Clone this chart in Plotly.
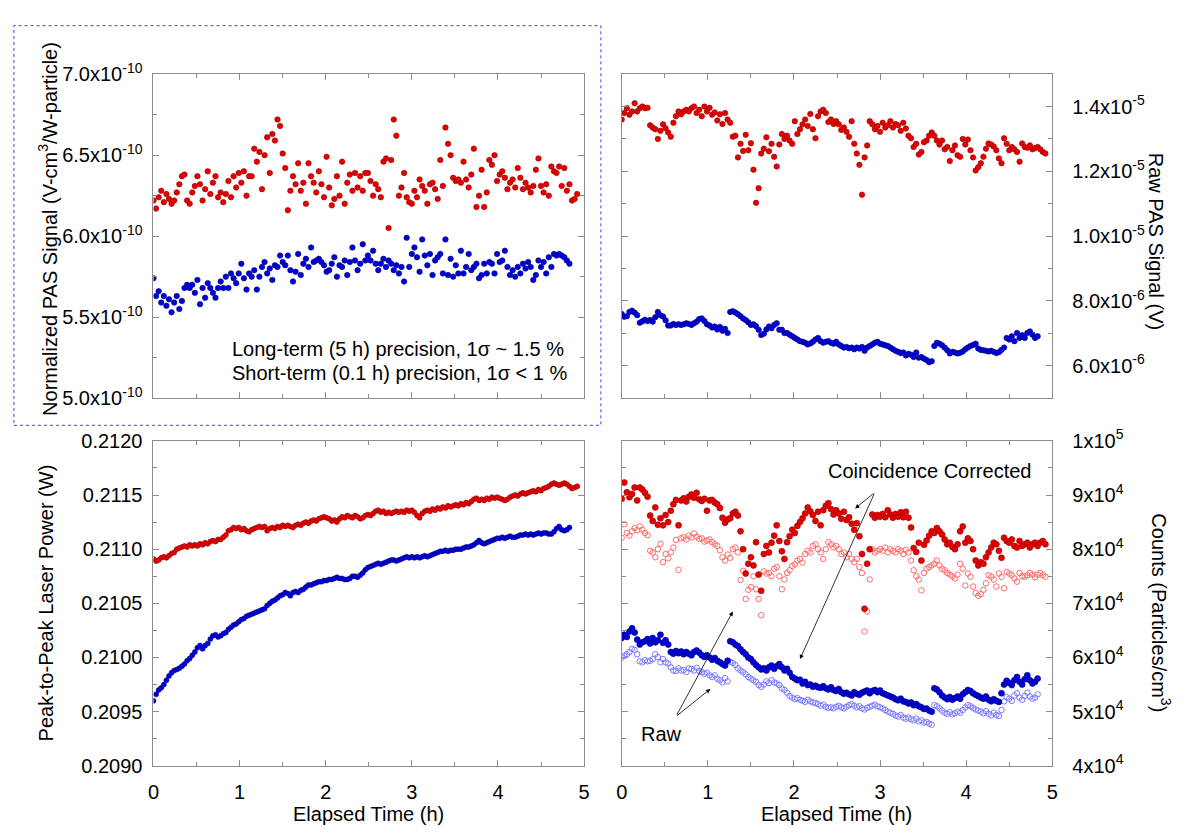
import plotly.graph_objects as go

W, H = 1185, 836
sample_step_h = 0.03  # elapsed-time spacing between successive readings (h)

# ---------------- data ----------------
# Normalized PAS signal, units of 1e-12 V-cm3/(W-particle)
norm_red = [622,617,624,628,621,626,623,620,622,627,632,
            637,638,622,620,627,631,637,632,622,629,
            640,626,633,637,624,627,621,626,634,624,
            637,630,639,633,640,625,637,637,654,646,
            652,629,650,661,639,663,659,672,668,651,
            642,616,628,637,632,645,628,633,620,645,
            637,633,627,640,632,624,649,630,619,623,
            637,625,646,620,633,638,628,639,630,637,
            628,639,639,634,625,632,629,624,646,648,
            605,647,672,662,625,630,639,624,621,620,
            628,624,635,631,628,620,632,633,629,623,
            647,631,667,657,650,636,634,635,633,646,
            635,630,638,654,618,625,641,618,627,647,
            644,650,634,638,640,636,629,633,635,630,
            642,636,629,633,630,627,631,641,648,631,
            627,632,625,643,640,639,643,631,642,628,
            632,622,623,626]
norm_blue = [574,563,566,559,563,557,561,553,559,563,555,
             560,568,570,568,570,565,573,558,568,562,
             571,568,565,562,568,572,568,575,568,577,
             574,571,577,583,574,567,577,575,579,567,
             575,581,584,577,580,573,582,581,588,584,
             582,588,579,572,578,589,576,583,586,581,
             593,584,585,586,584,582,578,579,583,587,
             575,582,581,585,576,584,593,585,579,583,
             595,585,588,585,591,583,579,583,586,581,
             585,583,579,582,577,581,572,599,581,589,
             593,587,578,598,588,582,589,576,585,587,
             589,577,598,576,586,575,582,577,591,577,
             581,589,579,581,583,574,576,583,577,584,
             583,577,589,584,585,591,581,576,579,575,
             581,577,583,580,584,581,573,576,585,581,
             584,577,587,581,589,588,589,588,587,585,583]

# Raw PAS signal, units of 1e-7 V
raw_red = [136,138,139.5,137.5,138.5,141,138.5,139.5,140,139.5,139.6,
           134.2,133.5,133,130,132.5,134.5,133.3,132,130.7,135,
           137,138.5,137.6,138.5,139,138.5,139.5,140,138,139,
           137,140,138.5,139.6,137.5,138.2,135.7,137.6,134.6,138,
           136,135,130.7,131,124.3,128.5,126.3,131.3,126.5,128.7,
           120.5,110.3,114.8,125.5,127,130.5,126.2,128.5,124.5,121.5,
           128.3,131.5,130,131,129.5,128.5,135.5,131.5,133,134.5,
           136,134,137.7,133,130.2,137,138.5,139,138,135.2,
           136,134.6,135.5,134.5,132.8,133.5,132.2,130.7,135.5,128.5,
           125.5,122,112.8,124.3,128,135.5,134.5,133,134,132.2,
           135,133.5,134.2,135.5,133.5,134.6,134.2,132.5,135,133.2,
           131,130.2,127.5,128.5,125.2,126,129,129.5,131,132,
           131,129.5,128.3,129.5,126.8,127.5,123.2,126.5,128,125,
           124.5,130,128.3,129.8,126.5,124.3,120.3,121.3,122.5,124.5,
           127,128.6,128.3,127.7,126.5,124,122.5,130.2,128.5,126.5,
           127.5,126.8,126,123,128.6,127.5,127.3,128,126.8,127.2,
           127.5,126.8,126,125.5]
raw_blue = [76,75.1,75.3,76.6,77,76.4,75.6,73.3,73.7,74.2,73.8,
            74.1,73.6,75,76.6,75.6,75.2,74,72.4,72.4,72.9,
            72.6,72.8,72.6,72.8,73.1,72.9,72.6,73.1,73.6,74.4,
            74.6,73.8,72.8,72.4,71.8,72.1,71.2,72,70.8,71.4,
            70.1,76.6,76.8,76.4,75.9,75.3,74.6,74.1,73.4,72.6,
            72.8,72.2,71.1,69.5,69.9,71.2,72.1,71.6,72.6,73.1,
            71.1,71.1,70.1,70.1,69.6,69.1,68.6,68.1,67.6,67.4,
            67.1,66.6,66.9,67.4,68.1,68.6,67.6,67.1,67.4,67.6,
            67.1,66.8,67.4,66.6,66.1,65.6,65.8,65.4,65.6,65.1,
            65.6,65.3,65.8,64.6,65.6,66.1,66.6,67.1,67.4,66.8,
            66.6,66.3,66.1,65.6,65.1,64.6,64.3,63.9,64.1,63.2,
            63.7,63.4,62.7,64.1,62.5,62.7,62.2,61.8,61.1,61.4,
            66.1,67.1,66.8,66.3,65.6,64.8,63.8,64.3,64.1,63.8,
            64,64.4,65.1,65.6,66.1,66.4,66.8,65.3,64.9,64.8,
            64.6,64.4,64.6,64.3,63.9,64.2,64.9,65.6,68.6,68.1,
            69.1,67.6,70.1,68.6,69.4,68.6,70.1,70.6,69.6,68.6,69.1]

# Peak-to-peak laser power, units of 1e-5 W
power_red = [21091,21089,21090,21092,21093,21092,21094,21096,21097,21100,21101,
             21102,21103,21102,21104,21103,21104,21103,21105,21104,21106,
             21105,21107,21108,21107,21109,21109,21111,21113,21117,21118,
             21120,21119,21120,21118,21119,21117,21116,21118,21119,21120,
             21121,21120,21121,21117,21119,21120,21119,21121,21120,21122,
             21121,21122,21121,21120,21122,21123,21122,21124,21125,21124,
             21126,21127,21126,21128,21129,21130,21129,21128,21126,21127,
             21125,21128,21130,21129,21131,21130,21129,21131,21130,21128,
             21129,21131,21132,21131,21133,21135,21136,21134,21135,21133,
             21134,21133,21134,21135,21134,21135,21134,21136,21135,21136,
             21134,21131,21129,21133,21135,21136,21135,21137,21136,21138,
             21137,21139,21138,21140,21139,21140,21141,21140,21142,21141,
             21143,21142,21144,21146,21147,21145,21146,21145,21147,21146,
             21148,21147,21148,21147,21146,21145,21146,21148,21149,21150,
             21149,21151,21152,21151,21152,21153,21154,21153,21155,21154,
             21156,21157,21158,21160,21161,21160,21159,21160,21161,21160,
             21158,21156,21157,21158]
power_blue = [20960,20966,20970,20972,20975,20979,20983,20986,20988,20989,20990,
              20992,20994,20997,20999,21002,21005,21009,21011,21008,21011,
              21013,21017,21020,21021,21019,21020,21022,21023,21026,21028,
              21030,21031,21033,21035,21036,21038,21039,21040,21041,21042,
              21043,21044,21045,21048,21050,21052,21053,21055,21057,21058,
              21060,21059,21057,21060,21061,21060,21062,21063,21065,21067,
              21067,21068,21069,21070,21070,21071,21071,21072,21072,21073,
              21074,21073,21073,21072,21072,21073,21075,21075,21074,21076,
              21078,21081,21083,21084,21085,21086,21087,21086,21087,21088,
              21089,21090,21090,21089,21090,21091,21092,21093,21092,21093,
              21092,21093,21092,21093,21094,21093,21094,21095,21096,21097,
              21098,21098,21099,21098,21099,21099,21100,21100,21100,21101,
              21102,21102,21103,21104,21106,21108,21106,21105,21106,21107,
              21108,21109,21110,21110,21111,21110,21111,21112,21111,21111,
              21112,21113,21113,21114,21113,21114,21113,21114,21115,21114,
              21115,21115,21114,21114,21116,21119,21121,21118,21117,21118,21120]

# Particle counts, units of 1e3 particles/cm3
counts_red_corr = [89.3,92.3,90.5,89.6,90.2,91.4,89.0,91.4,91.0,90.4,89.7,
                   86.2,85.2,87.7,84.5,85.7,84.4,86.3,85.0,87.1,88.3,
                   89.1,84.4,89.0,89.4,88.8,89.7,90.1,89.5,90.4,89.2,
                   88.9,89.3,87.1,89.0,89.1,88.6,88.3,87.6,85.8,84.9,
                   85.5,85.7,86.6,86.9,86.2,83.3,80.0,75.5,77.3,78.5,
                   77.0,81.3,75.3,72.3,79.1,80.6,79.4,81.2,82.5,84.4,
                   81.5,79.6,78.2,81.3,82.4,83.6,83.0,84.3,85.0,85.7,
                   86.6,87.7,87.0,86.3,85.2,86.9,84.4,87.2,88.0,88.5,
                   87.4,86.4,87.2,86.6,85.6,86.9,85.4,85.9,84.7,83.6,
                   84.8,82.4,79.1,69.0,77.3,80.0,86.4,85.8,86.3,86.0,
                   86.5,85.9,87.2,86.4,85.8,86.5,86.0,86.8,85.9,86.9,
                   85.8,84.0,80.2,79.5,81.2,77.9,80.8,81.6,82.5,83.3,
                   83.0,83.9,83.3,82.7,81.8,80.9,81.2,80.4,80.0,80.9,
                   83.3,84.2,81.2,82.0,81.5,80.0,77.9,77.0,77.6,77.3,
                   78.5,79.4,80.3,81.2,80.9,79.7,78.4,82.1,81.5,81.2,
                   81.8,80.6,80.3,81.5,80.6,80.9,81.2,80.3,80.9,81.2,
                   80.6,81.2,81.5,80.9]
counts_red_raw = [82.1,84.6,83.0,82.5,83.3,83.9,83.5,84.2,83.6,83.0,82.6,
                  79.7,79.4,78.5,80.0,81.0,77.6,79.1,78.3,79.4,80.3,
                  81.7,76.2,82.0,82.2,81.8,82.5,82.2,82.9,82.3,81.9,
                  82.0,81.4,81.6,81.8,81.3,80.9,80.6,79.8,78.5,77.9,
                  79.0,78.4,80.0,80.3,79.4,74.3,76.0,70.8,72.5,73.0,
                  75.0,72.6,70.8,67.8,75.9,75.5,75.6,75.0,76.4,76.7,
                  75.0,72.6,74.4,75.6,76.1,76.9,77.2,77.9,78.2,77.5,
                  79.1,79.7,79.4,80.6,80.9,80.0,79.4,78.2,80.0,81.3,
                  80.9,80.3,80.6,80.0,79.1,79.4,78.5,79.1,78.2,77.6,
                  78.2,76.7,75.6,64.8,68.5,74.4,80.0,79.4,79.7,80.0,
                  79.7,80.3,79.4,80.0,79.7,79.4,80.0,79.7,79.1,79.9,
                  79.4,77.9,76.1,75.0,74.4,72.4,75.6,76.4,76.7,77.0,
                  77.3,77.9,77.0,76.4,76.1,75.6,75.3,75.0,74.6,75.3,
                  77.3,76.4,73.3,75.5,74.9,73.1,71.9,71.4,71.7,72.5,
                  73.7,75.2,74.9,74.4,73.1,75.5,74.9,72.8,75.8,75.5,
                  75.2,74.6,74.0,75.6,75.0,74.9,75.2,75.6,75.3,74.8,
                  75.3,75.6,75.2,74.9]
counts_blue_corr = [63.6,64.2,63.8,64.8,65.4,64.6,63.3,62.4,62.8,63.0,63.4,
                    62.6,63.6,62.8,63.2,64.2,62.7,63.2,62.4,61.0,60.7,
                    61.2,60.8,61.1,60.6,61.0,60.7,60.4,61.0,61.3,60.9,
                    60.4,60.1,60.4,60.0,59.6,59.9,59.4,59.1,58.8,58.5,
                    59.4,63.0,62.8,62.4,62.1,61.5,61.0,60.6,60.0,59.7,
                    59.1,58.6,58.2,57.8,58.0,57.6,58.2,58.5,57.9,58.4,
                    58.8,58.2,57.6,57.9,57.2,56.4,56.1,55.8,55.9,55.2,
                    55.5,54.9,55.0,54.6,54.8,54.5,54.4,54.7,54.3,54.1,
                    54.5,54.0,53.8,54.2,53.6,53.3,53.5,53.2,53.0,53.6,
                    53.3,53.1,53.5,53.7,53.9,53.4,53.8,54.0,53.6,53.9,
                    53.4,53.2,53.0,52.8,52.6,52.3,52.1,52.4,51.9,51.8,
                    51.5,51.7,51.2,51.4,51.0,50.8,50.5,50.6,50.2,50.0,
                    54.3,54.1,53.6,53.0,52.6,52.3,52.7,52.2,52.5,52.8,
                    52.4,53.2,53.6,54.0,53.8,53.4,53.1,52.9,52.6,52.4,
                    52.8,52.2,51.9,52.3,52.0,51.8,53.4,55.0,55.7,55.3,
                    54.9,55.8,56.4,55.5,55.0,56.0,56.7,55.8,55.2,55.5,56.1]
counts_blue_raw = [60.0,60.3,60.6,61.0,61.6,61.4,60.6,59.3,59.1,59.5,59.3,
                   59.4,59.7,60.6,60.1,59.1,59.7,59.1,58.9,58.2,57.6,
                   57.5,58.0,57.6,57.7,57.3,58.0,57.9,57.6,58.1,57.5,
                   57.3,57.0,57.2,56.7,56.4,56.7,56.1,55.8,55.4,56.2,
                   55.6,59.2,59.0,58.6,58.0,57.6,57.3,56.9,56.4,56.1,
                   55.8,55.5,54.9,54.6,55.0,55.6,55.3,55.8,55.4,55.2,
                   54.9,54.3,54.0,53.5,52.9,52.6,52.3,52.5,52.2,52.0,
                   51.8,52.2,51.9,51.7,51.6,51.4,51.1,51.3,50.9,50.7,
                   50.8,50.6,50.9,51.1,50.8,50.6,50.9,51.2,51.4,51.1,
                   50.8,51.0,50.6,50.4,50.7,50.9,51.1,51.3,51.0,50.8,
                   50.6,50.3,50.0,49.8,49.6,49.3,49.1,49.4,48.9,48.7,
                   48.9,48.6,48.4,48.7,48.2,48.4,48.0,48.1,47.8,47.6,
                   51.2,51.0,50.6,50.2,49.8,49.6,49.9,49.5,49.7,50.0,
                   49.8,50.3,50.8,51.2,51.0,50.7,50.4,50.2,50.0,49.7,
                   50.1,49.6,49.3,49.8,49.4,49.2,50.3,51.9,52.7,52.4,
                   52.0,53.0,53.4,52.6,52.2,52.9,53.5,52.8,52.4,52.6,53.2]

# tick labels
x_ticks = [0, 1, 2, 3, 4, 5]
norm_ticks = [5.0e-10, 5.5e-10, 6.0e-10, 6.5e-10, 7.0e-10]
norm_labels = ["5.0x10<sup>-10</sup>", "5.5x10<sup>-10</sup>", "6.0x10<sup>-10</sup>",
               "6.5x10<sup>-10</sup>", "7.0x10<sup>-10</sup>"]
raw_ticks = [6e-6, 8e-6, 1.0e-5, 1.2e-5, 1.4e-5]
raw_labels = ["6.0x10<sup>-6</sup>", "8.0x10<sup>-6</sup>", "1.0x10<sup>-5</sup>",
              "1.2x10<sup>-5</sup>", "1.4x10<sup>-5</sup>"]
power_ticks = [0.2090, 0.2095, 0.2100, 0.2105, 0.2110, 0.2115, 0.2120]
power_labels = ["0.2090", "0.2095", "0.2100", "0.2105", "0.2110", "0.2115", "0.2120"]
count_ticks = [4e4, 5e4, 6e4, 7e4, 8e4, 9e4, 1e5]
count_labels = ["4x10<sup>4</sup>", "5x10<sup>4</sup>", "6x10<sup>4</sup>", "7x10<sup>4</sup>",
                "8x10<sup>4</sup>", "9x10<sup>4</sup>", "1x10<sup>5</sup>"]


def hours(values):
    return [round(i * sample_step_h, 2) for i in range(len(values))]


def scale(values, factor):
    return [v * factor for v in values]


FONT = "Arial, 'Liberation Sans', Helvetica, sans-serif"
RED, RED_EDGE = "#e60000", "#900000"
BLUE, BLUE_EDGE = "#0000dc", "#000078"
RED_OPEN, BLUE_OPEN = "#ff6a6a", "#7a7aff"
FRAME = "#8c8c8c"

fig = go.Figure()


def dots(y, xa, ya, color, edge, size=5.5, symbol="circle", width=0.6):
    fig.add_trace(go.Scatter(
        x=hours(y), y=y, xaxis=xa, yaxis=ya, mode="markers",
        marker=dict(size=size, color=color, symbol=symbol, line=dict(color=edge, width=width)),
        showlegend=False, hoverinfo="skip"))


dots(scale(norm_red, 1e-12), "x", "y", RED, RED_EDGE)
dots(scale(norm_blue, 1e-12), "x", "y", BLUE, BLUE_EDGE)
dots(scale(raw_red, 1e-7), "x2", "y2", RED, RED_EDGE)
dots(scale(raw_blue, 1e-7), "x2", "y2", BLUE, BLUE_EDGE)
dots(scale(power_red, 1e-5), "x3", "y3", RED, RED_EDGE, size=5)
dots(scale(power_blue, 1e-5), "x3", "y3", BLUE, BLUE_EDGE, size=5)
dots(scale(counts_red_raw, 1e3), "x4", "y4", RED_OPEN, RED_OPEN, size=5.5, symbol="circle-open", width=1)
dots(scale(counts_blue_raw, 1e3), "x4", "y4", BLUE_OPEN, BLUE_OPEN, size=5.5, symbol="circle-open", width=1)
dots(scale(counts_red_corr, 1e3), "x4", "y4", RED, RED_EDGE, size=6)
dots(scale(counts_blue_corr, 1e3), "x4", "y4", BLUE, BLUE_EDGE, size=6)


def px_x(px):
    return px / W


def px_y(py):
    return 1 - py / H


left_dom = [px_x(149), px_x(584)]
right_dom = [px_x(622), px_x(1057)]
top_dom = [px_y(396), px_y(62)]
bot_dom = [px_y(775), px_y(440)]

common = dict(showline=True, linecolor=FRAME, linewidth=1, mirror="ticks",
              ticks="inside", ticklen=6, tickcolor=FRAME, tickwidth=1,
              showgrid=False, zeroline=False,
              tickfont=dict(family=FONT, size=20, color="black"))


def xaxis(domain, anchor, labels):
    return dict(common, domain=domain, anchor=anchor, range=[0, 5],
                tickmode="array", tickvals=x_ticks, ticktext=[str(v) for v in x_ticks],
                showticklabels=labels, ticklabelstandoff=8,
                minor=dict(ticks="inside", ticklen=4, tickcolor=FRAME,
                           tickmode="array", tickvals=[0.5, 1.5, 2.5, 3.5, 4.5]))


def yaxis(domain, anchor, rng, tv, tt, minor_vals, side="left", standoff=6):
    return dict(common, domain=domain, anchor=anchor, range=rng, side=side,
                tickmode="array", tickvals=tv, ticktext=tt, ticklabelstandoff=standoff,
                minor=dict(ticks="inside", ticklen=4, tickcolor=FRAME,
                           tickmode="array", tickvals=minor_vals))


fig.update_layout(
    width=W, height=H, margin=dict(l=0, r=0, t=0, b=0),
    paper_bgcolor="white", plot_bgcolor="white",
    font=dict(family=FONT, size=20, color="black"),
    xaxis=xaxis(left_dom, "y", False),
    xaxis2=xaxis(right_dom, "y2", False),
    xaxis3=xaxis(left_dom, "y3", True),
    xaxis4=xaxis(right_dom, "y4", True),
    yaxis=yaxis(top_dom, "x", [5e-10, 7e-10], norm_ticks, norm_labels,
                [5.25e-10, 5.75e-10, 6.25e-10, 6.75e-10]),
    yaxis2=yaxis(top_dom, "x2", [5e-6, 1.5e-5], raw_ticks, raw_labels,
                 [7e-6, 9e-6, 1.1e-5, 1.3e-5], side="right", standoff=15),
    yaxis3=yaxis(bot_dom, "x3", [0.2090, 0.2120], power_ticks, power_labels,
                 [0.20925, 0.20975, 0.21025, 0.21075, 0.21125, 0.21175]),
    yaxis4=yaxis(bot_dom, "x4", [4e4, 1e5], count_ticks, count_labels,
                 [4.5e4, 5.5e4, 6.5e4, 7.5e4, 8.5e4, 9.5e4], side="right", standoff=15),
)

# dotted frame around the upper-left panel
fig.add_shape(type="rect", xref="paper", yref="paper",
              x0=px_x(8), x1=px_x(601), y0=px_y(424), y1=px_y(12),
              line=dict(color="#3c3cff", width=1, dash="dot"), fillcolor="rgba(0,0,0,0)")


def label(text, x, y, angle=0, size=20, xanchor="center"):
    fig.add_annotation(text=text, xref="paper", yref="paper", x=px_x(x), y=px_y(y),
                       showarrow=False, textangle=angle, xanchor=xanchor, yanchor="middle",
                       font=dict(family=FONT, size=size, color="black"))


label("Normalized PAS Signal (V-cm<sup>3</sup>/W-particle)", 42, 222, angle=-90)
label("Peak-to-Peak Laser Power (W)", 40, 607, angle=-90)
label("Raw PAS Signal (V)", 1162, 234, angle=90)
label("Counts (Particles/cm<sup>3</sup>)", 1167, 617, angle=90)
label("Elapsed Time (h)", 366.5, 825)
label("Elapsed Time (h)", 839.5, 825)
label("Long-term (5 h) precision, 1σ ~ 1.5 %", 226, 345, xanchor="left")
label("Short-term (0.1 h) precision, 1σ < 1 %", 226, 370, xanchor="left")
label("Coincidence Corrected", 933, 471)
label("Raw", 662, 742)


def arrow(tail, head):
    fig.add_annotation(x=head[0], y=head[1], ax=tail[0], ay=tail[1],
                       xref="x4", yref="y4", axref="x4", ayref="y4", text="",
                       showarrow=True, arrowhead=2, arrowsize=1.1, arrowwidth=0.8,
                       arrowcolor="black", standoff=0, startstandoff=0)


arrow((2.94, 90.5e3), (2.71, 87.5e3))
arrow((2.94, 90.5e3), (2.07, 59.7e3))
arrow((0.63, 49.1e3), (1.29, 68.5e3))
arrow((0.63, 49.1e3), (1.03, 54.2e3))

fig.write_html("out.html")
